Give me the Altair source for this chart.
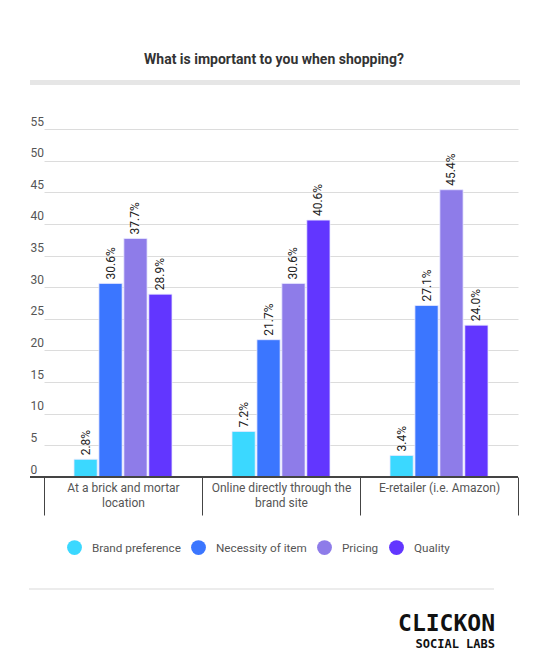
import altair as alt
import pandas as pd

categories = ["At a brick and mortar location", "Online directly through the brand site", "E-retailer (i.e. Amazon)"]
series = ["Brand preference", "Necessity of item", "Pricing", "Quality"]
brand_pref = [2.8, 7.2, 3.4]
necessity = [30.6, 21.7, 27.1]
pricing = [37.7, 30.6, 45.4]
quality = [28.9, 40.6, 24.0]
colors = ["#3bd8ff", "#3b76ff", "#8e7ce9", "#6236ff"]
y_ticks = [0, 5, 10, 15, 20, 25, 30, 35, 40, 45, 50, 55]
title_text = "What is important to you when shopping?"
logo_main = ["CLICKON"]
logo_sub = ["SOCIAL LABS"]

rows = []
for s, vals in zip(series, [brand_pref, necessity, pricing, quality]):
    for c, v in zip(categories, vals):
        rows.append({"category": c, "series": s, "value": v})
df = pd.DataFrame(rows)

label_expr = (
    "datum.value == 'At a brick and mortar location' ? ['At a brick and mortar', 'location'] : "
    "datum.value == 'Online directly through the brand site' ? ['Online directly through the', 'brand site'] : datum.label"
)

x_enc = alt.X(
    "category:N", sort=categories,
    scale=alt.Scale(range=[14, 488], paddingInner=0, paddingOuter=0),
    axis=alt.Axis(title=None, labelAngle=0, tickBand="extent", tickSize=38, tickColor="#444",
                  tickWidth=1, domain=False, grid=False, labelPadding=-33, labelFontSize=12,
                  labelColor="#555", labelFont="Roboto", labelLineHeight=15, labelBaseline="top",
                  labelExpr=label_expr, labelLimit=300),
)
xo_enc = alt.XOffset("series:N", sort=series, scale=alt.Scale(range=[30, 128], paddingInner=0.07, paddingOuter=0))
y_enc = alt.Y(
    "value:Q", scale=alt.Scale(domain=[0, 55], nice=False),
    axis=alt.Axis(title=None, values=y_ticks, grid=True, gridColor="#dcdcdc", ticks=False, domain=False,
                  labelAlign="left", labelBaseline="bottom", labelPadding=0, labelOffset=-1,
                  labelOverlap=False, labelFontSize=12, labelColor="#555", labelFont="Roboto"),
)

base = alt.Chart(df)
bars = base.mark_bar(stroke="#e8e8ff", strokeWidth=0.8).encode(
    x=x_enc, xOffset=xo_enc, y=y_enc,
    color=alt.Color("series:N", sort=series, scale=alt.Scale(domain=series, range=colors),
                    legend=alt.Legend(orient="none", legendX=37, legendY=411, direction="horizontal",
                                      title=None, symbolType="circle", symbolSize=220, symbolStrokeWidth=0,
                                      symbolOpacity=1, labelFontSize=11.7, labelColor="#555",
                                      labelFont="Roboto", labelOffset=10, columnPadding=10)),
)
labels = base.transform_calculate(
    lbl="format(datum.value, '.1f') + '%'"
).mark_text(angle=270, align="left", baseline="middle", dx=4, fontSize=12, font="Roboto", color="#222").encode(
    x=x_enc, xOffset=xo_enc, y=y_enc,
    text="lbl:N",
)

one = pd.DataFrame({"a": [0]})
baseline = alt.Chart(one).mark_rule(color="#444", strokeWidth=2).encode(
    x=alt.value(0), x2=alt.value(488), y=alt.value(348))
title_band = alt.Chart(one).mark_rect(color="#e6e6e6").encode(
    x=alt.value(0), x2=alt.value(490), y=alt.value(-49), y2=alt.value(-44))
sep = alt.Chart(one).mark_rule(color="#d9d9d9", strokeWidth=1).encode(
    x=alt.value(-1), x2=alt.value(464), y=alt.value(460))
logo1 = alt.Chart(pd.DataFrame({"t": logo_main})).mark_text(
    align="right", baseline="alphabetic", font="DejaVu Sans Mono", fontWeight="bold", fontSize=23, color="#111"
).encode(x=alt.value(465), y=alt.value(502), text="t:N")
logo2 = alt.Chart(pd.DataFrame({"t": logo_sub})).mark_text(
    align="right", baseline="alphabetic", font="DejaVu Sans Mono", fontWeight="bold", fontSize=12, color="#111"
).encode(x=alt.value(465), y=alt.value(519), text="t:N")

chart = alt.layer(bars, labels, baseline, title_band, sep, logo1, logo2).properties(
    width=488, height=348,
    title=alt.TitleParams(title_text, anchor="middle", fontSize=14, font="Roboto", fontWeight="bold",
                          color="#333", offset=13),
    autosize=alt.AutoSizeParams(type="none"),
    padding={"left": 22, "top": 121, "right": 24, "bottom": 186},
).configure(background="white").configure_view(stroke=None)

chart.save("out.html", embed_options={"renderer": "svg", "actions": False})
